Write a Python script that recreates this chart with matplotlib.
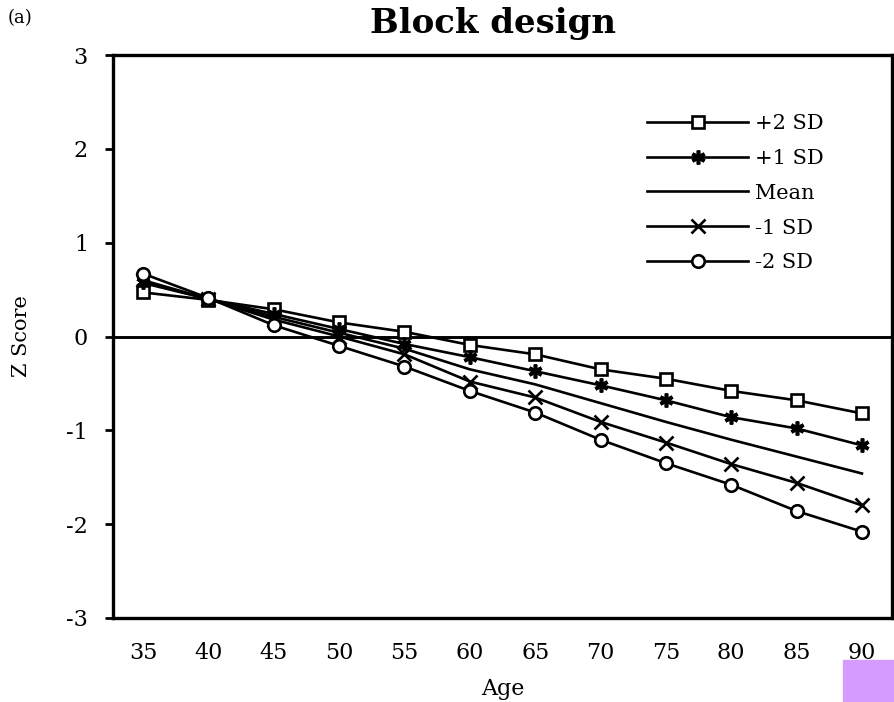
import matplotlib
matplotlib.use("Agg")
import matplotlib.pyplot as plt
from matplotlib.patches import Rectangle

ages = [35, 40, 45, 50, 55, 60, 65, 70, 75, 80, 85, 90]
plus2_sd = [0.47, 0.39, 0.29, 0.15, 0.05, -0.09, -0.19, -0.35, -0.45, -0.58, -0.68, -0.82]
plus1_sd = [0.58, 0.40, 0.24, 0.08, -0.08, -0.22, -0.37, -0.52, -0.68, -0.86, -0.98, -1.16]
mean = [0.57, 0.40, 0.21, 0.04, -0.13, -0.35, -0.51, -0.71, -0.91, -1.10, -1.28, -1.46]
minus1_sd = [0.60, 0.40, 0.18, 0.00, -0.19, -0.48, -0.65, -0.91, -1.13, -1.36, -1.56, -1.80]
minus2_sd = [0.67, 0.41, 0.12, -0.10, -0.32, -0.58, -0.81, -1.10, -1.35, -1.58, -1.86, -2.08]
labels = ["+2 SD", "+1 SD", "Mean", "-1 SD", "-2 SD"]
y_ticks = [-3, -2, -1, 0, 1, 2, 3]

plt.rcParams["font.family"] = ["DejaVu Serif", "Liberation Serif"]
plt.rcParams["axes.unicode_minus"] = False

fig = plt.figure(figsize=(8.95, 7.02), dpi=100)
ax = fig.add_axes([113 / 895, 1 - 618 / 702, (892 - 113) / 895, (618 - 55) / 702])

lw = 1.9
ax.axhline(0, color="black", lw=2.1, zorder=1)
ax.plot(ages, plus2_sd, color="black", lw=lw, marker="s", ms=9,
        mfc="white", mec="black", mew=1.9, label=labels[0])
ax.plot(ages, plus1_sd, color="black", lw=lw, marker=(6, 2, 0), ms=10,
        mec="black", mew=2.6, label=labels[1])
ax.plot(ages, mean, color="black", lw=lw, label=labels[2])
ax.plot(ages, minus1_sd, color="black", lw=lw, marker="x", ms=10,
        mec="black", mew=1.9, label=labels[3])
ax.plot(ages, minus2_sd, color="black", lw=lw, marker="o", ms=9,
        mfc="white", mec="black", mew=1.9, label=labels[4])

ax.set_xlim(ages[0] - 2.3, ages[-1] + 2.3)
ax.set_ylim(-3, 3)
ax.set_xticks(ages)
ax.set_xticklabels([str(a) for a in ages])
ax.set_yticks(y_ticks)
ax.tick_params(axis="x", length=0, labelsize=16, pad=17)
ax.tick_params(axis="y", length=6, width=2, labelsize=16, pad=12)
for s in ax.spines.values():
    s.set_linewidth(2.4)

ax.set_xlabel("Age", fontsize=16, labelpad=10)
fig.text(22 / 895, 1 - 336 / 702, "Z Score", rotation=90, fontsize=15,
         ha="center", va="center")
fig.text(493 / 895, 1 - 24 / 702, "Block design", fontsize=24.5,
         fontweight="bold", ha="center", va="center")
fig.text(8 / 895, 1 - 18 / 702, "(a)", fontsize=13, ha="left", va="center")

ax.legend(frameon=False, fontsize=15, handlelength=4.85, handletextpad=0.33,
          labelspacing=0.76, loc="upper left",
          bbox_to_anchor=((647 - 113) / 779, 1 - (114 - 55) / 563),
          borderaxespad=0, borderpad=0)

fig.patches.append(Rectangle((843 / 895, 0), 52 / 895, 42 / 702,
                             transform=fig.transFigure, color="#D49CFF",
                             zorder=5))

fig.savefig("out.png", dpi=100)
